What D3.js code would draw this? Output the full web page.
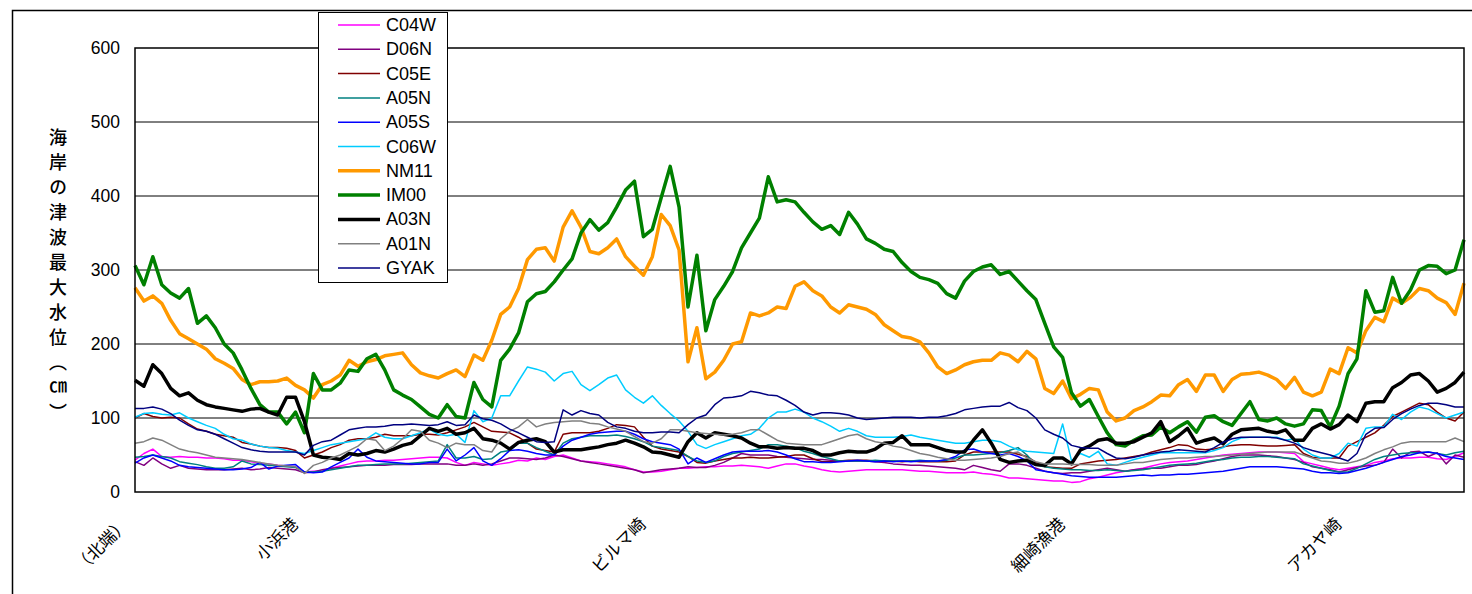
<!DOCTYPE html>
<html>
<head>
<meta charset="utf-8">
<script src="https://cdn.jsdelivr.net/npm/d3@7"></script>
<style>
  html, body { margin: 0; padding: 0; background: #fff; }
  svg { display: block; }
</style>
</head>
<body>
<svg id="chart" width="1472" height="594"></svg>
<script>
// Maximum tsunami water level along the coast (cm), one value per coastal point.
const C04W = [43,52,58,48,47,48,47,47,46,46, 45,43,43,41,39,38,36,35,34,27, 28,28,32,35,38,41,42,42,43,43,
  44,45,46,47,47,46,40,36,40,38, 36,38,40,43,42,46,44,48,50,46, 42,41,40,38,36,34,30,27,27,28,
  30,32,32,33,34,34,35,35,36,35, 34,32,35,38,38,35,33,30,28,27, 28,29,30,30,30,30,30,29,28,28,
  27,26,26,26,27,25,24,22,19,19, 18,17,16,15,15,13,14,18,20,23, 26,28,30,32,35,38,40,41,42,44,
  46,48,50,51,52,53,54,54,54,53, 52,41,38,35,32,30,32,34,36,40, 42,45,46,46,47,47,45,44,48,53];
const D06N = [41,36,46,38,32,36,32,31,30,30, 30,31,32,30,31,33,32,31,30,26, 27,30,32,33,34,35,36,36,36,37,
  37,37,38,38,38,38,36,36,38,36, 38,42,46,46,45,44,46,50,48,45, 42,40,38,36,34,32,30,26,28,30,
  31,32,34,33,33,36,40,46,52,50, 50,50,48,47,46,45,44,44,43,42, 42,42,42,41,40,38,37,36,36,35,
  34,33,32,30,36,33,30,28,38,38, 36,32,28,26,25,26,26,28,30,32, 30,28,30,31,32,32,34,36,36,37,
  40,42,45,48,50,50,50,49,48,46, 44,40,34,32,30,27,30,33,35,36, 40,58,46,54,55,48,53,38,50,47];
const C05E = [100,106,102,100,101,100,92,85,82,78, 76,74,67,65,62,60,60,59,56,46, 50,54,60,64,70,72,72,74,78,76,
  76,76,78,78,77,80,84,88,94,88, 82,81,80,74,66,58,56,54,78,80, 80,80,82,86,91,90,88,74,62,58,
  56,54,48,40,39,42,44,46,46,47, 46,46,47,48,50,50,45,41,41,42, 43,43,43,42,42,42,41,42,41,41,
  41,41,42,50,54,54,54,54,54,51, 48,40,34,33,32,32,38,40,42,43, 44,46,48,50,54,57,60,64,63,58,
  57,58,61,63,64,64,63,62,62,63, 64,52,47,46,46,46,62,68,74,80, 90,102,108,114,120,118,108,100,96,108];
const A05N = [47,48,50,48,46,41,39,37,34,32, 32,34,42,38,37,36,35,34,33,27, 27,28,30,32,34,36,36,37,38,38,
  38,39,40,41,42,64,46,46,48,44, 45,54,56,66,66,60,55,50,66,72, 74,76,76,76,77,75,72,68,62,60,
  58,56,48,42,40,42,48,52,54,56, 58,64,64,62,60,55,52,48,45,42, 42,42,42,43,42,42,42,42,43,42,
  42,43,46,50,50,51,52,53,56,60, 50,36,34,32,31,30,30,29,29,30, 29,28,29,30,32,34,36,37,38,39,
  41,43,44,46,47,47,48,48,47,46, 45,38,35,32,29,27,27,32,38,44, 48,50,52,53,53,54,52,50,53,55];
const A05S = [39,46,50,46,42,36,34,33,32,31, 30,30,31,33,40,31,35,36,37,27, 26,27,34,40,46,58,47,42,41,40,
  39,38,38,40,40,58,42,50,60,42, 36,45,56,57,55,52,50,50,62,70, 74,78,80,81,82,82,78,72,68,66,
  64,58,38,46,40,45,50,54,55,55, 55,56,54,50,45,41,41,40,40,41, 42,43,42,41,42,41,42,41,42,42,
  42,44,48,57,58,54,52,50,52,48, 42,30,28,26,24,22,21,20,20,20, 20,21,22,23,22,23,23,24,24,25,
  26,27,28,30,32,34,34,34,34,33, 32,31,28,26,26,25,26,29,32,36, 40,44,48,50,53,54,52,48,46,44];
const C06W = [101,106,107,105,104,107,100,95,90,86, 78,72,70,65,62,60,59,56,54,52, 56,60,64,66,68,70,72,80,74,72,
  72,76,80,85,78,76,78,67,110,95, 100,130,130,150,169,166,162,150,160,163, 145,137,145,154,158,138,128,120,130,117,
  106,96,82,64,59,64,68,72,76,78, 86,100,108,108,112,108,100,95,89,82, 86,82,76,74,74,74,75,77,74,72,
  70,68,66,66,68,70,70,68,62,57, 55,54,53,52,92,42,52,47,55,38, 36,40,44,47,50,53,53,53,53,53,
  53,56,60,68,73,74,74,74,74,70, 72,58,50,46,46,52,66,62,86,88, 88,105,98,108,115,112,106,100,104,108];
const NM11 = [276,258,265,255,232,214,207,200,193,180, 174,167,152,145,149,149,150,154,144,138,
  127,145,150,158,178,170,176,179,184,186, 188,172,161,157,154,160,165,156,185,178,
  205,240,250,275,314,328,330,312,358,380, 358,325,322,330,342,318,305,293,318,375,
  360,327,176,222,153,162,178,200,203,242, 238,242,250,248,278,284,272,265,250,242,
  253,250,247,240,226,218,210,208,203,188, 169,160,165,172,176,178,178,188,185,176,
  190,180,140,133,150,126,132,140,138,108, 96,100,110,115,122,131,130,145,152,136,
  158,158,136,152,159,160,162,158,152,140, 155,135,130,135,166,160,195,188,218,236,
  230,262,255,263,275,272,262,256,240,282];
const IM00 = [306,280,318,280,269,262,275,228,238,222, 200,188,165,140,118,108,108,92,108,80,
  160,138,138,147,165,163,180,186,165,138, 131,125,115,105,100,118,102,100,148,125,
  115,178,193,215,257,268,271,284,300,315, 350,368,354,364,385,408,420,345,355,398,
  440,385,250,320,218,260,278,298,330,350, 370,426,392,395,392,378,365,355,360,348,
  378,362,342,336,328,325,310,298,290,287, 282,268,262,285,298,304,307,294,298,285,
  272,260,228,196,182,134,116,125,102,80, 64,62,70,76,77,88,80,88,95,81,
  101,103,95,90,106,122,98,96,100,92, 89,92,111,110,88,116,160,180,272,243,
  245,290,255,273,300,306,305,295,300,341];
const A03N = [151,143,172,160,140,130,134,124,118,115, 113,111,109,112,113,108,104,128,128,95,
  50,47,46,44,52,50,52,56,54,58, 63,66,76,86,82,86,78,80,86,72,
  70,66,58,67,70,72,68,54,57,57, 57,59,61,64,66,70,66,61,54,53,
  50,47,68,80,73,80,78,76,73,66, 61,61,59,60,59,59,56,50,50,53,
  55,54,54,58,66,67,76,64,64,64, 60,56,54,54,70,84,66,44,40,42,
  43,37,36,46,46,38,57,62,70,72, 66,66,68,74,80,95,68,76,86,66,
  70,73,65,78,84,85,86,82,80,84, 70,70,86,92,85,91,104,95,120,122,
  122,141,148,158,160,150,135,140,148,162];
const A01N = [66,68,73,70,64,58,55,53,50,47, 46,45,44,42,40,38,36,35,34,25, 36,40,46,50,56,62,72,70,56,62,
  72,84,82,70,66,60,66,64,64,56, 54,72,82,88,98,88,92,94,95,96, 96,93,92,88,85,82,75,68,66,72,
  84,84,82,80,79,78,77,78,80,84, 84,77,70,66,65,64,64,64,68,72, 76,78,72,68,66,62,60,56,52,50,
  47,45,43,43,44,45,46,48,52,54, 46,41,38,38,38,37,37,37,36,36, 36,38,40,40,42,44,45,46,46,47,
  48,48,49,50,51,52,53,54,54,54, 54,50,46,42,41,39,39,42,46,52, 57,61,66,68,68,68,68,68,73,68];
const GYAK = [113,113,115,112,106,97,90,84,82,78, 72,66,60,57,55,54,54,54,54,50, 63,68,70,77,84,86,88,88,89,91,
  91,92,91,90,91,95,90,91,104,99, 97,92,85,80,74,68,67,68,111,104, 110,106,104,94,88,86,82,80,80,81,
  81,80,91,100,104,118,127,128,130,136, 134,131,130,124,117,108,104,107,107,106, 104,100,98,99,100,101,101,101,100,101,
  101,103,106,111,113,115,116,116,121,114, 110,100,84,78,73,63,60,59,59,52, 46,45,47,50,52,54,55,57,56,55,
  54,60,67,72,74,74,74,74,73,70, 66,60,56,53,50,46,42,52,78,86, 87,98,106,112,117,120,120,118,115,115];

const seriesNames = ["C04W", "D06N", "C05E", "A05N", "A05S", "C06W", "NM11", "IM00", "A03N", "A01N", "GYAK"];
const seriesValues = [C04W, D06N, C05E, A05N, A05S, C06W, NM11, IM00, A03N, A01N, GYAK];
const seriesColors = ["#ff00ff", "#800080", "#800000", "#008080", "#0000ff", "#00ccff", "#ff9900", "#008000", "#000000", "#808080", "#000080"];
const seriesWidths = [1.5, 1.5, 1.5, 1.5, 1.5, 1.5, 3.5, 3.5, 3.5, 1.5, 1.5];

// Named places along the coastline and the point each one sits at.
const placeIndex = [0, 19, 58, 105, 136];
const placeLabels = ["（北端）", "小浜港", "ビルマ崎", "細崎漁港", "アカヤ崎"];
const yTicks = [0, 100, 200, 300, 400, 500, 600];
const yTitle = "海岸の津波最大水位（㎝）";

const svg = d3.select("#chart");
const latin = "'Liberation Sans', Arial, sans-serif";
const cjk = "'Noto Sans CJK JP', 'Noto Sans CJK SC', sans-serif";

const plot = { left: 135, right: 1464, top: 48, bottom: 492 };
const n = C04W.length;

const x = d3.scaleLinear().domain([0, n - 1]).range([plot.left, plot.right]);
const y = d3.scaleLinear().domain([0, 600]).range([plot.bottom, plot.top]);

// Outer chart frame
svg.append("rect")
  .attr("x", 12.5).attr("y", 10.5)
  .attr("width", 1480).attr("height", 600)
  .attr("fill", "#fff").attr("stroke", "#000").attr("stroke-width", 1.5);

// Horizontal gridlines
svg.append("g")
  .selectAll("line")
  .data(yTicks.filter(t => t > 0 && t < 600))
  .join("line")
  .attr("x1", plot.left).attr("x2", plot.right)
  .attr("y1", d => y(d)).attr("y2", d => y(d))
  .attr("stroke", "#000").attr("stroke-width", 1);

// Y axis tick labels
const yAxis = d3.axisLeft(y).tickValues(yTicks).tickSize(0).tickPadding(15);
const yg = svg.append("g").attr("transform", `translate(${plot.left},0)`).call(yAxis);
yg.select(".domain").remove();
yg.selectAll("text")
  .attr("font-family", latin).attr("font-size", 17.5).attr("fill", "#000");

// Place-name labels along the bottom, slanted
const xAxis = d3.axisBottom(x).tickValues(placeIndex).tickSize(0)
  .tickFormat((d, i) => placeLabels[i]);
const xg = svg.append("g").attr("transform", `translate(0,${plot.bottom})`).call(xAxis);
xg.select(".domain").remove();
xg.selectAll(".tick text")
  .attr("font-family", cjk).attr("font-size", 17).attr("fill", "#000")
  .attr("text-anchor", "end")
  .attr("dy", null).attr("y", null)
  .attr("dominant-baseline", "central")
  .attr("transform", "translate(-11,28) rotate(-45)");

// Series lines
const line = d3.line().x((d, i) => x(i)).y(d => y(d));
svg.append("g")
  .selectAll("path")
  .data(seriesValues)
  .join("path")
  .attr("d", line)
  .attr("fill", "none")
  .attr("stroke", (d, i) => seriesColors[i])
  .attr("stroke-width", (d, i) => seriesWidths[i])
  .attr("stroke-linejoin", "round");

// Plot area border
svg.append("rect")
  .attr("x", plot.left).attr("y", plot.top)
  .attr("width", plot.right - plot.left).attr("height", plot.bottom - plot.top)
  .attr("fill", "none").attr("stroke", "#000").attr("stroke-width", 1.5);

// Vertical axis title
svg.append("text")
  .attr("x", 58).attr("y", 128)
  .attr("font-family", cjk).attr("font-size", 18).attr("font-weight", 500)
  .attr("style", "writing-mode: vertical-rl; text-orientation: upright; letter-spacing: 7px;")
  .text(yTitle);

// Legend
const legend = svg.append("g");
legend.append("rect")
  .attr("x", 318.5).attr("y", 12.5).attr("width", 129).attr("height", 270)
  .attr("fill", "#fff").attr("stroke", "#000").attr("stroke-width", 1);
const rowY = d3.scaleLinear().domain([0, seriesNames.length - 1]).range([25, 268]);
const rows = legend.selectAll("g.row").data(seriesNames).join("g").attr("class", "row")
  .attr("transform", (d, i) => `translate(0,${rowY(i)})`);
rows.append("line")
  .attr("x1", 338).attr("x2", 380).attr("y1", 0).attr("y2", 0)
  .attr("stroke", (d, i) => seriesColors[i])
  .attr("stroke-width", (d, i) => seriesWidths[i]);
rows.append("text")
  .attr("x", 386).attr("y", 0)
  .attr("dominant-baseline", "central")
  .attr("font-family", latin).attr("font-size", 18).attr("fill", "#000")
  .text(d => d);
</script>
</body>
</html>
